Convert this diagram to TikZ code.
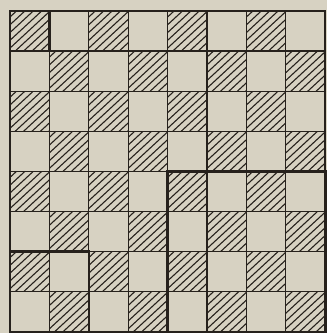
\documentclass[tikz,border=0pt]{standalone}
\definecolor{paper}{RGB}{215,210,194}
\definecolor{ink}{RGB}{38,33,28}
\tikzset{
  gridline/.style={draw=ink,line width=1.3pt},
  boardedge/.style={draw=ink,line width=1.6pt},
  thickbox/.style={draw=ink,line width=2.6pt},
  hatchline/.style={draw=ink,line width=1.1pt}
}
\begin{document}
\begin{tikzpicture}[x=1pt,y=-1pt]
\fill[paper] (0,0) rectangle (327,333);
\useasboundingbox (0,0) rectangle (327,333);
\def\ox{10}\def\oy{11}\def\cw{39.4}\def\ch{40.1}
% hatched cells
\foreach \r in {0,...,7}{
  \foreach \c in {0,...,7}{
    \pgfmathtruncatemacro\hp{mod(\r+\c,2)}
    \ifnum\hp=0
      \pgfmathsetmacro\xa{\ox+\c*\cw}
      \pgfmathsetmacro\ya{\oy+\r*\ch}
      \begin{scope}
        \clip (\xa,\ya) rectangle ++(\cw,\ch);
        \foreach \k in {-6,...,5}{
          \draw[hatchline] (\xa+\k*8.4+3,\ya+\ch+2) -- ++(54,-50);
        }
      \end{scope}
    \fi
  }
}
% grid lines
\foreach \i in {1,...,7}{
  \draw[gridline] (\ox+\i*\cw,\oy) -- (\ox+\i*\cw,\oy+8*\ch);
  \draw[gridline] (\ox,\oy+\i*\ch) -- (\ox+8*\cw,\oy+\i*\ch);
}
\draw[boardedge] (\ox,\oy) rectangle (\ox+8*\cw,\oy+8*\ch);
% highlighted regions
\draw[thickbox] (\ox,\oy) rectangle (\ox+\cw,\oy+\ch);
\draw[thickbox] (\ox+4*\cw,\oy+4*\ch) rectangle (\ox+8*\cw,\oy+8*\ch);
\draw[thickbox] (\ox,\oy+6*\ch) rectangle (\ox+2*\cw,\oy+8*\ch);
\end{tikzpicture}
\end{document}
